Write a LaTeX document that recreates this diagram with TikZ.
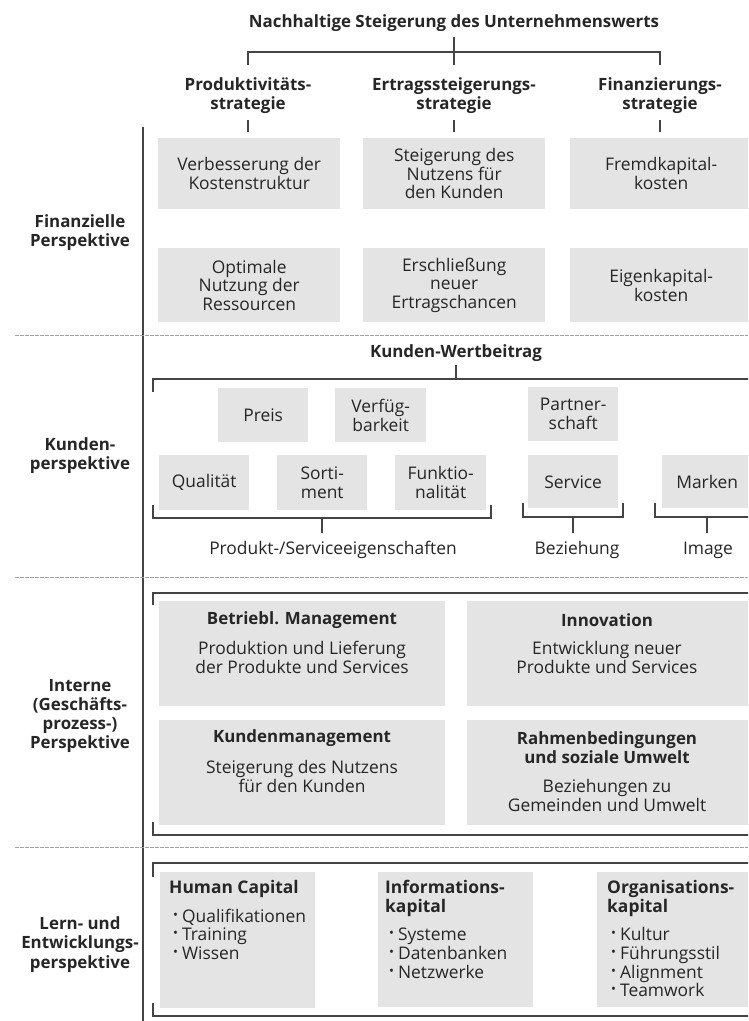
\documentclass[tikz,border=0pt]{standalone}
\usepackage{fontspec}
\usepackage{graphicx}
\setmainfont{Open Sans}
\definecolor{ink}{HTML}{262626}
\definecolor{rulecol}{HTML}{444444}
\definecolor{boxgray}{HTML}{E4E4E4}
\definecolor{dashgray}{HTML}{A0A0A0}
\newcommand{\bul}{\hspace*{4pt}\raisebox{0.18em}{\scalebox{0.75}{•}}\hspace{4pt}}
\tikzset{
  txt/.style={text=ink, font=\fontsize{17.4}{18.7}\selectfont, align=center, inner sep=0pt},
  btxt/.style={txt, font=\fontsize{16.9}{18.7}\selectfont\bfseries},
  side/.style={btxt, font=\fontsize{16.9}{19.3}\selectfont\bfseries},
  cell/.style={txt, fill=boxgray, draw=none, anchor=north west},
  bracket/.style={draw=rulecol, line width=1.8pt},
  sep/.style={draw=dashgray, line width=0.9pt, dash pattern=on 3.5pt off 1.5pt},
}
\begin{document}
\begin{tikzpicture}[x=1pt,y=-1pt]
\useasboundingbox[fill=white] (0,0) rectangle (748,1021);
\clip (0,0) rectangle (748,1021);

% ---------- strategy tree ----------
\node[btxt] (goal) at (454,23) {Nachhaltige Steigerung des Unternehmenswerts};
\node[btxt] (s1) at (248,95.5) {Produktivitäts-\\strategie};
\node[btxt] (s2) at (454,95.5) {Ertragssteigerungs-\\strategie};
\node[btxt] (s3) at (660,95.5) {Finanzierungs-\\strategie};
\draw[bracket] (454,37) -- (454,65);
\draw[bracket] (248,65) -- (248,52) -- (660,52) -- (660,65);
\foreach \x in {248,454,660} \draw[bracket] (\x,120) -- (\x,132);

% ---------- side column ----------
\draw[bracket] (143,127) -- (143,1021);
\node[side] (lf) at (80,232.5) {Finanzielle\\Perspektive};
\node[side] (lk) at (80,455.5) {Kunden-\\perspektive};
\node[side] (li) at (80,716) {Interne\\(Geschäfts-\\prozess-)\\Perspektive};
\node[side] (ll) at (80,944.5) {Lern- und\\Entwicklungs-\\perspektive};
\foreach \y in {335,577,847} \draw[sep] (15,\y) -- (748,\y);

% ---------- financial perspective ----------
\node[cell, minimum width=182pt, minimum height=71pt] (f11) at (158,138) {Verbesserung der\\Kostenstruktur};
\node[cell, minimum width=182pt, minimum height=71pt] (f12) at (363,138) {Steigerung des\\Nutzens für\\den Kunden};
\node[cell, minimum width=182pt, minimum height=71pt] (f13) at (570,138) {Fremdkapital-\\kosten};
\node[cell, minimum width=182pt, minimum height=74pt] (f21) at (158,248) {Optimale\\Nutzung der\\Ressourcen};
\node[cell, minimum width=182pt, minimum height=74pt] (f22) at (363,248) {Erschließung\\neuer\\Ertragschancen};
\node[cell, minimum width=182pt, minimum height=74pt] (f23) at (570,248) {Eigenkapital-\\kosten};

% ---------- customer perspective ----------
\node[btxt] (kw) at (456,353) {Kunden-Wertbeitrag};
\draw[bracket] (456,365) -- (456,379);
\draw[bracket] (153,392) -- (153,379) -- (750,379);
\node[cell, minimum width=90pt, minimum height=54pt] (preis) at (218,388) {Preis};
\node[cell, minimum width=91pt, minimum height=54pt] (verf) at (335,388) {Verfüg-\\barkeit};
\node[cell, minimum width=90pt, minimum height=54pt] (partn) at (528,387) {Partner-\\schaft};
\node[cell, minimum width=90pt, minimum height=55pt] (qual) at (159,455) {Qualität};
\node[cell, minimum width=90pt, minimum height=55pt] (sort) at (277,455) {Sorti-\\ment};
\node[cell, minimum width=91pt, minimum height=55pt] (funk) at (395,455) {Funktio-\\nalität};
\node[cell, minimum width=90pt, minimum height=53pt] (serv) at (528,455) {Service};
\node[cell, minimum width=90pt, minimum height=53pt] (mark) at (662,455) {Marken};
\draw[bracket] (153,505) -- (153,518) -- (491,518) -- (491,505);
\draw[bracket] (322,518) -- (322,533);
\draw[bracket] (523,503) -- (523,517) -- (623,517) -- (623,503);
\draw[bracket] (573,517) -- (573,533);
\draw[bracket] (655,503) -- (655,517) -- (750,517);
\draw[bracket] (707,517) -- (707,533);
\node[txt] (prod) at (333,550) {Produkt-/Serviceeigenschaften};
\node[txt] (bez) at (577,550) {Beziehung};
\node[txt] (img) at (708,550) {Image};

% ---------- internal process perspective ----------
\draw[bracket] (153,605) -- (153,593) -- (750,593);
\draw[bracket] (153,822) -- (153,835) -- (750,835);
\node[cell, minimum width=286pt, minimum height=105pt] (i1) at (159,601) {};
\node[cell, minimum width=286pt, minimum height=105pt] (i2) at (467,601) {};
\node[cell, minimum width=286pt, minimum height=105pt] (i3) at (159,720) {};
\node[cell, minimum width=286pt, minimum height=105pt] (i4) at (467,720) {};
\node[btxt] (i1h) at (302,620) {Betriebl. Management};
\node[txt] (i1t) at (302,657.5) {Produktion und Lieferung\\der Produkte und Services};
\node[btxt] (i2h) at (607,620) {Innovation};
\node[txt] (i2t) at (607,657.5) {Entwicklung neuer\\Produkte und Services};
\node[btxt] (i3h) at (302,738) {Kundenmanagement};
\node[txt] (i3t) at (302,776.5) {Steigerung des Nutzens\\für den Kunden};
\node[btxt] (i4h) at (607,747.5) {Rahmenbedingungen\\und soziale Umwelt};
\node[txt] (i4t) at (607,795.5) {Beziehungen zu\\Gemeinden und Umwelt};

% ---------- learning and growth perspective ----------
\draw[bracket] (153,877) -- (153,863) -- (750,863);
\draw[bracket] (153,1003) -- (153,1016) -- (750,1016);
\node[cell, minimum width=155pt, minimum height=136pt] (l1) at (160,872) {};
\node[cell, minimum width=155pt, minimum height=135pt] (l2) at (378,872) {};
\node[cell, minimum width=155pt, minimum height=135pt] (l3) at (597,872) {};
\node[txt, align=left, anchor=north west] (l1t) at (169,880)
  {\textbf{Human Capital}\\[10pt]\bul Qualifikationen\\\bul Training\\\bul Wissen};
\node[txt, align=left, anchor=north west] (l2t) at (385,880)
  {\textbf{Informations-}\\\textbf{kapital}\\[10pt]\bul Systeme\\\bul Datenbanken\\\bul Netzwerke};
\node[txt, align=left, anchor=north west] (l3t) at (607,880)
  {\textbf{Organisations-}\\\textbf{kapital}\\[10pt]\bul Kultur\\\bul Führungsstil\\\bul Alignment\\\bul Teamwork};
\end{tikzpicture}
\end{document}
